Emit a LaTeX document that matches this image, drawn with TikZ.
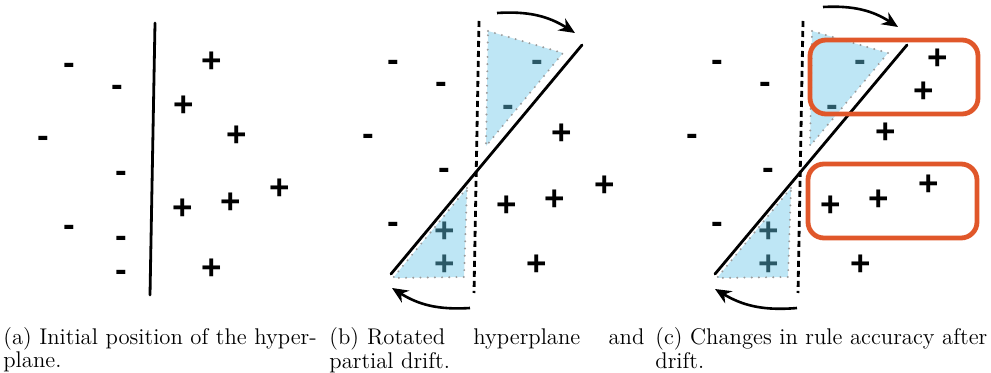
\documentclass[tikz,border=0pt]{standalone}
\usepackage{fontspec}
\newfontfamily\signfont{Liberation Sans}
\usetikzlibrary{arrows.meta}
\definecolor{trifill}{HTML}{BEE6F5}
\definecolor{tealsign}{HTML}{2B5866}
\definecolor{rulebox}{HTML}{E0572A}
\definecolor{dotgray}{HTML}{9A9A9A}
\tikzset{
  signbase/.style={font=\signfont\bfseries\fontsize{17.5}{18}\selectfont, inner sep=0pt, anchor=base},
  plussign/.style={signbase, yshift=-6.1pt},
  minussign/.style={signbase, yshift=-4.8pt},
  hyper/.style={line width=1.4pt, line cap=round},
  oldhyper/.style={line width=1.4pt, dash pattern=on 3pt off 2pt},
  region/.style={fill=trifill, draw=dotgray, line width=1.1pt, line cap=round, dash pattern=on 0pt off 3.6pt},
  rotarrow/.style={line width=1.3pt, -{Stealth[length=8pt,width=7pt]}},
  rulerect/.style={draw=rulebox, line width=2.4pt, rounded corners=8pt},
  caption/.style={inner sep=0pt, anchor=north west, align=left, font=\fontsize{11.35}{10.3}\selectfont}
}
\begin{document}
\begin{tikzpicture}[x=0.5pt, y=-0.5pt]
\useasboundingbox (0,0) rectangle (991,373);

% ---------- panel (a)
\coordinate (a1) at (155,23);
\coordinate (a2) at (150,295);
\draw[hyper] (a1) -- (a2);
\foreach \p [count=\i] in {(69,65),(117,87),(43,138),(121,173),(69,227),(121,238),(121,272)}
  \node[minussign] (am\i) at \p {-};
\foreach \p [count=\i] in {(212,60),(184,104),(237,134),(280,187),(231,201),(183,207),(212,267)}
  \node[plussign] (ap\i) at \p {+};

% ---------- panel (b)
\coordinate (bt1) at (488,31); \coordinate (bt2) at (563,53); \coordinate (bt3) at (486,146);
\coordinate (bu1) at (467,188); \coordinate (bu2) at (393,278); \coordinate (bu3) at (464,277);
\path[region] (bt1) -- (bt2) -- (bt3) -- cycle;
\path[region] (bu1) -- (bu2) -- (bu3) -- cycle;
\coordinate (bd1) at (479,21); \coordinate (bd2) at (474,293);
\draw[oldhyper] (bd1) -- (bd2);
\coordinate (bs1) at (582,45); \coordinate (bs2) at (391,274);
\draw[hyper] (bs1) -- (bs2);
\coordinate (bar1) at (497,13); \coordinate (bar2) at (575,33);
\draw[rotarrow] (bar1) to[bend left=18] (bar2);
\coordinate (bal1) at (470,308); \coordinate (bal2) at (392,288);
\draw[rotarrow] (bal1) to[bend left=18] (bal2);
\foreach \p [count=\i] in {(393,62),(441,84),(368,136),(444,170),(393,224)}
  \node[minussign] (bm\i) at \p {-};
\foreach \p [count=\i] in {(537,62),(508,107)}
  \node[minussign, text=tealsign] (btm\i) at \p {-};
\foreach \p [count=\i] in {(562,132),(605,184),(555,198),(507,204),(537,263)}
  \node[plussign] (bp\i) at \p {+};
\foreach \p [count=\i] in {(445,230),(445,263)}
  \node[plussign, text=tealsign] (btp\i) at \p {+};

% ---------- panel (c)
\coordinate (ct1) at (812,31); \coordinate (ct2) at (888,53); \coordinate (ct3) at (810,146);
\coordinate (cu1) at (791,188); \coordinate (cu2) at (717,278); \coordinate (cu3) at (788,277);
\path[region] (ct1) -- (ct2) -- (ct3) -- cycle;
\path[region] (cu1) -- (cu2) -- (cu3) -- cycle;
\coordinate (cd1) at (803,21); \coordinate (cd2) at (798,293);
\draw[oldhyper] (cd1) -- (cd2);
\coordinate (cs1) at (907,45); \coordinate (cs2) at (715,274);
\draw[hyper] (cs1) -- (cs2);
\coordinate (car1) at (823,7); \coordinate (car2) at (898,27);
\draw[rotarrow] (car1) to[bend left=18] (car2);
\coordinate (cal1) at (797,308); \coordinate (cal2) at (715,289);
\draw[rotarrow] (cal1) to[bend left=18] (cal2);
\foreach \p [count=\i] in {(717,62),(765,84),(692,136),(768,170),(717,224)}
  \node[minussign] (cm\i) at \p {-};
\foreach \p [count=\i] in {(860,62),(832,107)}
  \node[minussign, text=tealsign] (ctm\i) at \p {-};
\foreach \p [count=\i] in {(938,57),(924,90),(886,131),(929,183),(879,198),(831,204),(861,263)}
  \node[plussign] (cp\i) at \p {+};
\foreach \p [count=\i] in {(769,230),(769,263)}
  \node[plussign, text=tealsign] (ctp\i) at \p {+};
\coordinate (r1a) at (810,40); \coordinate (r1b) at (978,114);
\draw[rulerect] (r1a) rectangle (r1b);
\coordinate (r2a) at (808,164); \coordinate (r2b) at (977,238);
\draw[rulerect] (r2a) rectangle (r2b);

% ---------- captions
\node[caption, text width=165pt] (capa) at (3,327) {(a) Initial position of the hyper-\\plane.};
\node[caption, text width=157.5pt] (capb) at (329,327) {(b)\hspace{4pt}Rotated\hfill hyperplane\hfill and\\partial drift.};
\node[caption, text width=170pt] (capc) at (655,327) {(c) Changes in rule accuracy after\\drift.};
\end{tikzpicture}
\end{document}
